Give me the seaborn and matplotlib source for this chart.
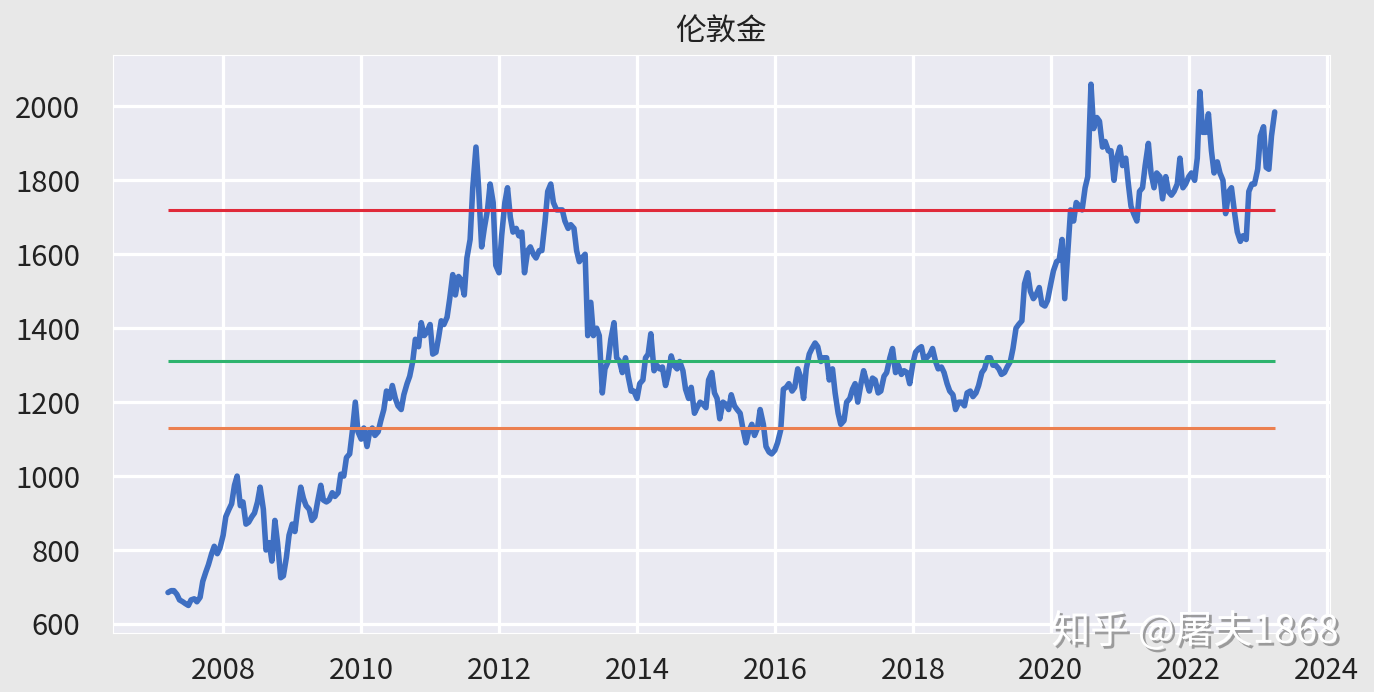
import pandas as pd
import seaborn as sns
import matplotlib.pyplot as plt
import matplotlib.dates as mdates
import matplotlib.ticker as mticker
import matplotlib.patheffects as pe

sns.set_style("darkgrid")
plt.rcParams['font.family'] = ['Noto Sans CJK SC', 'DejaVu Sans']

# London gold, semi-monthly closes (1st / 15th)
gold_2007 = [685, 690, 690, 680, 665, 660, 655, 650, 665, 668, 660, 672, 715, 740, 760, 790, 810, 790, 805]
gold_2008 = [840, 890, 910, 925, 975, 1000, 920, 930, 870, 875, 890, 900,
             930, 970, 910, 800, 820, 770, 880, 820, 725, 730, 780, 840]
gold_2009 = [870, 850, 920, 970, 940, 920, 910, 880, 890, 930, 975, 935,
             930, 935, 955, 945, 955, 1005, 1000, 1050, 1060, 1120, 1200, 1120]
gold_2010 = [1100, 1130, 1080, 1120, 1130, 1110, 1120, 1150, 1180, 1230, 1210, 1245,
             1210, 1190, 1180, 1220, 1250, 1270, 1310, 1370, 1350, 1415, 1380, 1390]
gold_2011 = [1410, 1330, 1335, 1375, 1420, 1410, 1430, 1480, 1545, 1490, 1540, 1530,
             1490, 1590, 1640, 1780, 1890, 1780, 1620, 1670, 1720, 1790, 1740, 1570]
gold_2012 = [1550, 1650, 1740, 1780, 1700, 1660, 1670, 1650, 1660, 1550, 1610, 1620,
             1600, 1590, 1610, 1610, 1690, 1770, 1790, 1740, 1720, 1720, 1720, 1690]
gold_2013 = [1670, 1680, 1670, 1610, 1580, 1590, 1600, 1380, 1470, 1380, 1400, 1380,
             1225, 1290, 1310, 1370, 1415, 1320, 1310, 1280, 1320, 1270, 1230, 1230]
gold_2014 = [1210, 1250, 1260, 1320, 1330, 1385, 1285, 1300, 1290, 1295, 1245, 1275,
             1325, 1300, 1290, 1310, 1285, 1235, 1210, 1240, 1170, 1185, 1200, 1195]
gold_2015 = [1185, 1260, 1280, 1225, 1210, 1155, 1200, 1195, 1180, 1220, 1190, 1180,
             1170, 1130, 1090, 1120, 1140, 1110, 1130, 1180, 1140, 1080, 1065, 1060]
gold_2016 = [1070, 1090, 1125, 1235, 1240, 1250, 1230, 1240, 1290, 1270, 1210, 1290,
             1330, 1345, 1360, 1350, 1310, 1320, 1320, 1260, 1290, 1225, 1170, 1140]
gold_2017 = [1150, 1200, 1210, 1235, 1250, 1200, 1250, 1285, 1255, 1230, 1265, 1260,
             1225, 1230, 1270, 1280, 1320, 1345, 1280, 1300, 1275, 1285, 1280, 1250]
gold_2018 = [1305, 1335, 1345, 1350, 1315, 1320, 1330, 1345, 1310, 1290, 1295, 1280,
             1250, 1230, 1220, 1180, 1200, 1200, 1190, 1225, 1230, 1215, 1225, 1245]
gold_2019 = [1280, 1290, 1320, 1320, 1300, 1300, 1290, 1275, 1280, 1295, 1310, 1345,
             1400, 1410, 1420, 1520, 1550, 1500, 1480, 1490, 1510, 1465, 1460, 1475]
gold_2020 = [1520, 1555, 1580, 1585, 1640, 1480, 1610, 1720, 1690, 1740, 1730, 1720,
             1780, 1810, 2060, 1940, 1970, 1960, 1890, 1905, 1880, 1880, 1800, 1860]
gold_2021 = [1890, 1840, 1860, 1790, 1730, 1710, 1690, 1770, 1780, 1840, 1900, 1820,
             1780, 1820, 1810, 1750, 1810, 1770, 1760, 1770, 1790, 1860, 1780, 1790]
gold_2022 = [1810, 1820, 1800, 1860, 2040, 1930, 1930, 1980, 1880, 1820, 1850, 1820,
             1800, 1710, 1770, 1780, 1710, 1660, 1635, 1650, 1640, 1770, 1790, 1790]
gold_2023 = [1830, 1920, 1945, 1835, 1830, 1920, 1985]

# reference levels (red / green / orange)
level_values = [1720, 1310, 1130]
level_colors = ['#E02A3A', '#2EB36E', '#EC8050']

prices = (gold_2007 + gold_2008 + gold_2009 + gold_2010 + gold_2011 + gold_2012 +
          gold_2013 + gold_2014 + gold_2015 + gold_2016 + gold_2017 + gold_2018 +
          gold_2019 + gold_2020 + gold_2021 + gold_2022 + gold_2023)
dates = pd.date_range('2007-03-15', periods=len(prices), freq='SMS')
df = pd.DataFrame({'date': dates, 'price': prices})

fig = plt.figure(figsize=(13.74, 6.92), dpi=100, facecolor='#E8E8E8')
ax = fig.add_axes([0.082, 0.085, 0.886, 0.836])

sns.lineplot(data=df, x='date', y='price', color='#3F6FC2', linewidth=4.0, ax=ax)

for lv, c in zip(level_values, level_colors):
    ax.hlines(lv, df['date'].min(), df['date'].max(), color=c, linewidth=2.2, zorder=3)

ax.xaxis.set_major_locator(mdates.YearLocator(2))
ax.xaxis.set_major_formatter(mdates.DateFormatter('%Y'))
ax.yaxis.set_major_locator(mticker.MultipleLocator(200))
ax.set_ylim(575, 2140)

ax.grid(color='white', linewidth=2.3)
ax.tick_params(labelsize=21, colors='#222222')
ax.tick_params(axis='y', pad=20)
ax.tick_params(axis='x', pad=13)
ax.set_xlabel('')
ax.set_ylabel('')
ax.set_title('伦敦金', fontsize=22, pad=10, color='#222222')

fig.text(0.974, 0.087, '知乎 @屠夫1868', ha='right', va='center', fontsize=28, color='white',
         path_effects=[pe.SimplePatchShadow(offset=(2, -2), shadow_rgbFace='#888888', alpha=0.8), pe.Normal()])

fig.savefig('out.png', dpi=100, facecolor=fig.get_facecolor())
